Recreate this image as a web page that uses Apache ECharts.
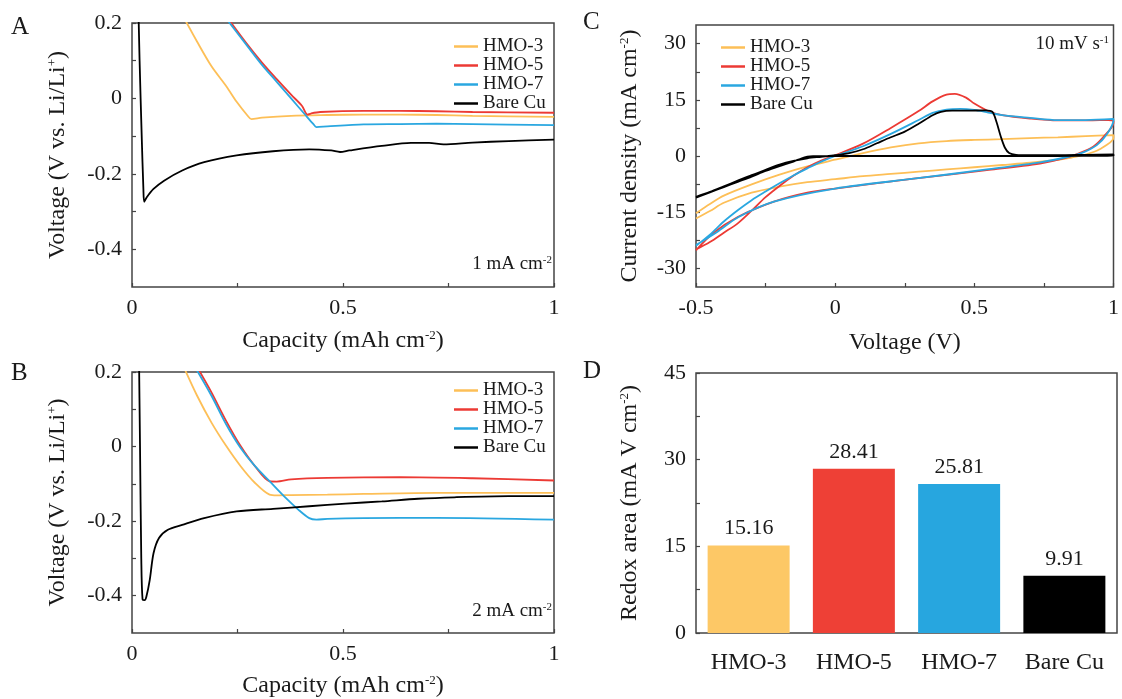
<!DOCTYPE html>
<html><head><meta charset="utf-8">
<script src="https://cdn.jsdelivr.net/npm/echarts@6/dist/echarts.min.js"></script>
<style>html,body{margin:0;padding:0;background:#fff}#c{width:1122px;height:699px}</style>
</head><body><div id="c"></div>
<script>
// ---------- data ----------
const seriesNames = ['HMO-3', 'HMO-5', 'HMO-7', 'Bare Cu'];
const lineColors = ['#FDBF57', '#EC3A34', '#2AA7E0', '#000000'];
const barColors = ['#FDC866', '#EE4036', '#27A6DF', '#000000'];

// Panel A (1 mA cm-2): capacity (mAh cm-2) vs voltage (V)
const capA_hmo3 = [0.125, 0.154, 0.188, 0.223, 0.248, 0.274, 0.283, 0.308, 0.377, 0.463, 0.549, 0.635, 0.721, 0.807, 1.0];
const voltA_hmo3 = [0.21, 0.151, 0.086, 0.033, -0.009, -0.046, -0.055, -0.051, -0.046, -0.044, -0.043, -0.043, -0.044, -0.046, -0.049];
const capA_hmo5 = [0.232, 0.274, 0.308, 0.343, 0.377, 0.403, 0.416, 0.424, 0.446, 0.549, 0.635, 0.721, 0.807, 1.0];
const voltA_hmo5 = [0.205, 0.142, 0.095, 0.051, 0.01, -0.02, -0.043, -0.04, -0.036, -0.033, -0.033, -0.034, -0.036, -0.038];
const capA_hmo7 = [0.228, 0.274, 0.308, 0.343, 0.377, 0.411, 0.429, 0.437, 0.463, 0.549, 0.635, 0.721, 0.807, 1.0];
const voltA_hmo7 = [0.205, 0.138, 0.089, 0.044, 0.0, -0.044, -0.067, -0.076, -0.074, -0.069, -0.068, -0.067, -0.068, -0.071];
const capA_bare = [0.014, 0.018, 0.023, 0.027, 0.029, 0.035, 0.051, 0.076, 0.119, 0.171, 0.248, 0.334, 0.42, 0.472, 0.493, 0.515, 0.592, 0.661, 0.704, 0.738, 0.807, 0.893, 1.0];
const voltA_bare = [0.3, 0.1, -0.1, -0.24, -0.274, -0.262, -0.24, -0.218, -0.191, -0.169, -0.151, -0.14, -0.135, -0.138, -0.142, -0.138, -0.126, -0.118, -0.118, -0.122, -0.117, -0.113, -0.109];

// Panel B (2 mA cm-2)
const capB_hmo3 = [0.124, 0.154, 0.188, 0.223, 0.257, 0.291, 0.326, 0.343, 0.377, 0.463, 0.549, 0.721, 1.0];
const voltB_hmo3 = [0.21, 0.137, 0.065, 0.002, -0.052, -0.097, -0.129, -0.131, -0.13, -0.129, -0.127, -0.124, -0.124];
const capB_hmo5 = [0.156, 0.188, 0.223, 0.257, 0.291, 0.326, 0.343, 0.377, 0.463, 0.635, 0.807, 1.0];
const voltB_hmo5 = [0.21, 0.146, 0.069, 0.002, -0.052, -0.093, -0.094, -0.088, -0.084, -0.082, -0.085, -0.091];
const capB_hmo7 = [0.151, 0.188, 0.223, 0.257, 0.291, 0.326, 0.36, 0.394, 0.42, 0.437, 0.463, 0.549, 0.721, 1.0];
const voltB_hmo7 = [0.21, 0.137, 0.06, -0.003, -0.052, -0.093, -0.133, -0.169, -0.192, -0.196, -0.194, -0.192, -0.191, -0.196];
const capB_bare = [0.016, 0.019, 0.022, 0.025, 0.03, 0.034, 0.042, 0.051, 0.064, 0.085, 0.119, 0.171, 0.248, 0.334, 0.42, 0.506, 0.592, 0.678, 0.764, 0.893, 1.0];
const voltB_bare = [0.3, 0.0, -0.3, -0.41, -0.412, -0.403, -0.358, -0.286, -0.245, -0.223, -0.21, -0.192, -0.174, -0.167, -0.16, -0.153, -0.147, -0.14, -0.136, -0.133, -0.133];

// Panel C (CV, 10 mV s-1): voltage (V) vs current density (mA cm-2), forward then reverse scan
const cvV_hmo3 = [-0.5, -0.45, -0.4, -0.3, -0.2, -0.1, 0, 0.1, 0.2, 0.3, 0.4, 0.5, 0.6, 0.7, 0.8, 0.9, 1.0,
  1.0, 0.95, 0.9, 0.85, 0.8, 0.7, 0.6, 0.5, 0.4, 0.3, 0.2, 0.1, 0, -0.1, -0.2, -0.3, -0.4, -0.45, -0.5];
const cvI_hmo3 = [-15.3, -12.8, -10.6, -7.6, -5.0, -2.8, -1.0, 0.8, 2.3, 3.4, 4.0, 4.3, 4.5, 4.8, 5.0, 5.3, 5.6,
  4.8, 1.8, 0.4, -0.4, -1.0, -1.8, -2.4, -3.0, -3.6, -4.2, -4.8, -5.4, -6.2, -7.0, -8.2, -9.8, -12.5, -14.7, -16.7];
const cvV_hmo5 = [-0.5, -0.45, -0.4, -0.35, -0.3, -0.25, -0.2, -0.15, -0.1, -0.05, 0, 0.1, 0.2, 0.3, 0.35, 0.4, 0.43, 0.47, 0.5, 0.55, 0.6, 0.7, 0.8, 0.9, 0.95, 1.0,
  1.0, 0.965, 0.927, 0.876, 0.825, 0.736, 0.545, 0.29, 0, -0.1, -0.22, -0.35, -0.44, -0.5];
const cvI_hmo5 = [-25.0, -23.0, -20.5, -18.0, -14.6, -11.0, -8.0, -5.3, -3.0, -1.2, 0.2, 3.3, 7.5, 12.0, 14.6, 16.4, 16.6, 15.6, 14.0, 12.0, 10.9, 10.0, 9.5, 9.5, 9.6, 9.4,
  8.8, 5.2, 2.5, 0.7, -0.6, -2.0, -3.8, -6.0, -8.7, -9.8, -12.2, -16.3, -20.7, -25.2];
const cvV_hmo7 = [-0.5, -0.45, -0.4, -0.35, -0.3, -0.25, -0.2, -0.15, -0.1, -0.05, 0, 0.1, 0.2, 0.3, 0.35, 0.4, 0.45, 0.5, 0.55, 0.6, 0.7, 0.8, 0.9, 1.0,
  1.0, 0.978, 0.94, 0.889, 0.838, 0.736, 0.545, 0.29, 0, -0.22, -0.347, -0.424, -0.5];
const cvI_hmo7 = [-24.0, -21.0, -17.5, -14.5, -11.8, -9.5, -7.3, -5.2, -3.3, -1.5, 0.0, 2.6, 5.9, 9.6, 11.5, 12.4, 12.6, 12.3, 11.6, 10.9, 10.2, 9.6, 9.6, 9.9,
  9.6, 6.0, 2.9, 0.9, -0.2, -1.7, -3.6, -6.0, -8.7, -12.2, -16.3, -20.3, -23.8];
const cvV_bare = [-0.5, -0.45, -0.4, -0.35, -0.3, -0.25, -0.2, -0.15, -0.1, -0.05, 0, 0.05, 0.1, 0.15, 0.2, 0.25, 0.3, 0.35, 0.38, 0.42, 0.48, 0.54, 0.565, 0.58, 0.595, 0.61, 0.625, 0.65, 0.7, 0.8, 0.9, 1.0,
  1.0, 0.9, 0.8, 0.6, 0.4, 0.2, 0, -0.08, -0.1, -0.12, -0.15, -0.2, -0.25, -0.3, -0.35, -0.4, -0.45, -0.5];
const cvI_bare = [-10.9, -9.6, -8.1, -6.6, -5.1, -3.7, -2.3, -1.3, -0.6, -0.2, 0.2, 0.8, 1.8, 3.4, 5.0, 6.5, 8.6, 10.9, 11.8, 12.1, 12.1, 12.2, 11.8, 9.0, 5.2, 2.2, 0.8, 0.3, 0.2, 0.2, 0.3, 0.4,
  0.1, 0.05, 0.0, 0.0, 0.0, 0.0, 0.0, -0.05, -0.2, -0.6, -1.5, -2.7, -4.0, -5.5, -6.9, -8.3, -9.7, -11.1];

// Panel D: redox area (mA V cm-2)
const redoxArea = [15.16, 28.41, 25.81, 9.91];

// tick values
const capTicks = [0, 0.25, 0.5, 0.75, 1];
const capLabels = [0, 0.5, 1];
const voltTicks = [-0.4, -0.3, -0.2, -0.1, 0, 0.1, 0.2];
const voltLabels = [-0.4, -0.2, 0, 0.2];
const cvXTicks = [-0.5, -0.25, 0, 0.25, 0.5, 0.75, 1];
const cvXLabels = [-0.5, 0, 0.5, 1];
const cvYTicks = [-30, -22.5, -15, -7.5, 0, 7.5, 15, 22.5, 30];
const cvYLabels = [-30, -15, 0, 15, 30];
const areaTicks = [0, 7.5, 15, 22.5, 30, 37.5, 45];
const areaLabels = [0, 15, 30, 45];

// ---------- chart ----------
const F = 'Liberation Serif';
const TXT = '#1a1a1a';
const AX = '#444';
const zip = (x, y) => x.map((v, i) => [v, y[i]]);
const supRich = (base) => ({ s: { fontSize: Math.round(base * 0.55), fontFamily: F, color: TXT, verticalAlign: 'top' } });

function vAxis(gi, min, max, ticks, labels, name, nameGap) {
  return {
    type: 'value', gridIndex: gi, min: min, max: max,
    name: name, nameLocation: 'middle', nameGap: nameGap,
    nameTextStyle: { fontFamily: F, fontSize: 24, color: TXT, rich: supRich(24) },
    axisLine: { show: false, onZero: false },
    axisTick: { show: true, inside: true, length: 4, customValues: ticks, lineStyle: { color: AX, width: 1.2 } },
    axisLabel: { customValues: labels, fontFamily: F, fontSize: 22, color: TXT, margin: 10 },
    splitLine: { show: false }
  };
}

const grids = [
  { left: 132, top: 23, width: 422, height: 264 },
  { left: 132, top: 372, width: 422, height: 261 },
  { left: 696, top: 25, width: 419, height: 262 },
  { left: 696, top: 373, width: 421, height: 260 }
].map(g => Object.assign(g, { show: true, borderColor: AX, borderWidth: 1.5, backgroundColor: 'transparent' }));

const capName = 'Capacity (mAh cm{s|-2})';
const voltName = 'Voltage (V vs. Li/Li{s|+})';

const xAxes = [
  vAxis(0, 0, 1, capTicks, capLabels, capName, 42),
  vAxis(1, 0, 1, capTicks, capLabels, capName, 41),
  vAxis(2, -0.5, 1, cvXTicks, cvXLabels, 'Voltage (V)', 44),
  {
    type: 'category', gridIndex: 3, data: seriesNames,
    axisLine: { show: false }, axisTick: { show: false },
    axisLabel: { fontFamily: F, fontSize: 24, color: TXT, margin: 18 }
  }
];
const yAxes = [
  vAxis(0, -0.5, 0.2, voltTicks, voltLabels, voltName, 62),
  vAxis(1, -0.5, 0.2, voltTicks, voltLabels, voltName, 62),
  vAxis(2, -35, 35, cvYTicks, cvYLabels, 'Current density (mA cm{s|-2})', 54),
  vAxis(3, 0, 45, areaTicks, areaLabels, 'Redox area (mA V cm{s|-2})', 54)
];

function lineS(name, idx, gi, x, y) {
  return {
    type: 'line', name: name, xAxisIndex: gi, yAxisIndex: gi,
    data: zip(x, y), showSymbol: false, symbol: 'none', smooth: 0.3, clip: true,
    lineStyle: { color: lineColors[idx], width: 1.8 }, itemStyle: { color: lineColors[idx] },
    z: idx === 3 ? 3 : 2
  };
}

const series = [
  lineS('HMO-3', 0, 0, capA_hmo3, voltA_hmo3),
  lineS('HMO-5', 1, 0, capA_hmo5, voltA_hmo5),
  lineS('HMO-7', 2, 0, capA_hmo7, voltA_hmo7),
  lineS('Bare Cu', 3, 0, capA_bare, voltA_bare),
  lineS('HMO-3', 0, 1, capB_hmo3, voltB_hmo3),
  lineS('HMO-5', 1, 1, capB_hmo5, voltB_hmo5),
  lineS('HMO-7', 2, 1, capB_hmo7, voltB_hmo7),
  lineS('Bare Cu', 3, 1, capB_bare, voltB_bare),
  lineS('HMO-3', 0, 2, cvV_hmo3, cvI_hmo3),
  lineS('HMO-5', 1, 2, cvV_hmo5, cvI_hmo5),
  lineS('HMO-7', 2, 2, cvV_hmo7, cvI_hmo7),
  lineS('Bare Cu', 3, 2, cvV_bare, cvI_bare),
  {
    type: 'bar', name: 'Redox area', xAxisIndex: 3, yAxisIndex: 3,
    data: redoxArea.map((v, i) => ({ value: v, itemStyle: { color: barColors[i] } })),
    barWidth: 82,
    label: { show: true, position: 'top', distance: 6, fontFamily: F, fontSize: 22, color: TXT, formatter: p => p.value.toFixed(2) }
  }
];

function legend(left, top) {
  return {
    data: seriesNames, orient: 'vertical', left: left, top: top,
    icon: 'rect', itemWidth: 24, itemHeight: 2.5, itemGap: 0,
    textStyle: { fontFamily: F, fontSize: 19, color: TXT, lineHeight: 19, padding: [0, 0, 0, 0] },
    selectedMode: false
  };
}

function label(x, y, text, size) {
  return {
    type: 'text', x: x, y: y,
    style: { text: text, fontFamily: F, fontSize: size, fill: TXT, align: 'right', verticalAlign: 'middle',
      rich: { s: { fontSize: Math.round(size * 0.6), fontFamily: F, fill: TXT, verticalAlign: 'top' } } }
  };
}
function letter(x, y, t) {
  return { type: 'text', x: x, y: y, style: { text: t, fontFamily: F, fontSize: 25, fill: TXT, align: 'left', verticalAlign: 'middle' } };
}

const option = {
  animation: false,
  backgroundColor: '#fff',
  grid: grids,
  xAxis: xAxes,
  yAxis: yAxes,
  legend: [legend(449, 32), legend(449, 376), legend(716, 33)],
  series: series,
  graphic: [
    letter(11, 27, 'A'), letter(11, 373, 'B'), letter(583, 22, 'C'), letter(583, 371, 'D'),
    label(552, 264, '1 mA cm{s|-2}', 19),
    label(552, 611, '2 mA cm{s|-2}', 19),
    label(1109, 44, '10 mV s{s|-1}', 19)
  ]
};

const chart = echarts.init(document.getElementById('c'), null, { renderer: 'canvas' });
chart.setOption(option);
</script>
</body></html>
